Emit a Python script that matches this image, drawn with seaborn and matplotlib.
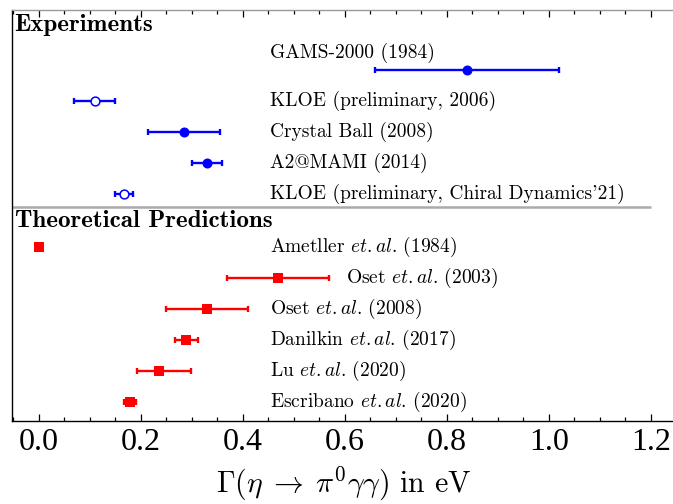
import numpy as np
import pandas as pd
import seaborn as sns
import matplotlib
matplotlib.use("Agg")
import matplotlib.pyplot as plt
from matplotlib.ticker import MultipleLocator

# ---------------- data ----------------
exp_labels = ["GAMS-2000 (1984)", "KLOE (preliminary, 2006)", "Crystal Ball (2008)",
              "A2@MAMI (2014)", "KLOE (preliminary, Chiral Dynamics'21)"]
exp_values = [0.84, 0.11, 0.285, 0.33, 0.168]
exp_err_lo = [0.18, 0.04, 0.07, 0.03, 0.018]
exp_err_hi = [0.18, 0.04, 0.07, 0.03, 0.018]
exp_filled = [True, False, True, True, False]

th_labels = [r"Ametller $et.al.\,$(1984)", r"Oset $et.al.\,$(2003)", r"Oset $et.al.\,$(2008)",
             r"Danilkin $et.al.\,$(2017)", r"Lu $et.al.\,$(2020)", r"Escribano $et.al.\,$(2020)"]
th_values = [0.0, 0.47, 0.33, 0.29, 0.236, 0.179]
th_err_lo = [0.0, 0.10, 0.08, 0.023, 0.043, 0.012]
th_err_hi = [0.0, 0.10, 0.08, 0.023, 0.062, 0.012]

xticks = [0.0, 0.2, 0.4, 0.6, 0.8, 1.0, 1.2]
xlabel = r"$\Gamma(\eta\;\rightarrow\;\pi^0\gamma\gamma)$ in eV"

# ---------------- style ----------------
sns.set_theme(style="ticks")
plt.rcParams["font.family"] = "cmr10"
plt.rcParams["mathtext.fontset"] = "cm"
plt.rcParams["axes.unicode_minus"] = False
plt.rcParams["axes.formatter.use_mathtext"] = False
plt.rcParams["text.color"] = "black"
plt.rcParams["axes.labelcolor"] = "black"
plt.rcParams["xtick.color"] = "black"
plt.rcParams["xtick.labelcolor"] = "black"

BLUE = "#0000ff"
RED = "#ff0000"

fig = plt.figure(figsize=(6.73, 5.04), dpi=100)
ax = fig.add_axes([12 / 673, 83 / 504, 0.987, 411 / 504])

# row positions (top to bottom)
n_th = len(th_values)
th_y = np.arange(n_th)[::-1].astype(float)           # 5 ... 0
exp_y = 6.7 + np.arange(len(exp_values))[::-1]        # 10.7 ... 6.7

exp_df = pd.DataFrame({"label": exp_labels, "value": exp_values, "lo": exp_err_lo,
                       "hi": exp_err_hi, "filled": exp_filled, "y": exp_y})
th_df = pd.DataFrame({"label": th_labels, "value": th_values, "lo": th_err_lo,
                      "hi": th_err_hi, "y": th_y})

# error bars
ax.errorbar(exp_df["value"], exp_df["y"], xerr=[exp_df["lo"], exp_df["hi"]], fmt="none",
            ecolor=BLUE, elinewidth=1.7, capsize=2.2, capthick=1.7, zorder=2)
th_e = th_df[(th_df["lo"] > 0) | (th_df["hi"] > 0)]
ax.errorbar(th_e["value"], th_e["y"], xerr=[th_e["lo"], th_e["hi"]], fmt="none",
            ecolor=RED, elinewidth=1.7, capsize=2.2, capthick=1.7, zorder=2)

# markers
filled = exp_df[exp_df["filled"]]
opened = exp_df[~exp_df["filled"]]
sns.scatterplot(data=filled, x="value", y="y", ax=ax, marker="o", s=52,
                color=BLUE, edgecolor=BLUE, linewidth=0, zorder=3)
sns.scatterplot(data=opened, x="value", y="y", ax=ax, marker="o", s=40,
                facecolor="white", edgecolor=BLUE, linewidth=1.1, zorder=3)
sns.scatterplot(data=th_df, x="value", y="y", ax=ax, marker="s", s=42,
                color=RED, edgecolor=RED, linewidth=0, zorder=3)

# labels
label_x = 0.453
for i, r in exp_df.iterrows():
    ty = r["y"] + 0.58 if i == 0 else r["y"]
    ax.text(label_x, ty, r["label"], fontsize=14, va="center", ha="left", color="black")
for i, r in th_df.iterrows():
    tx = 0.603 if i == 1 else label_x
    ax.text(tx, r["y"], r["label"], fontsize=14, va="center", ha="left", color="black")

ax.text(-0.047, 12.16, "Experiments", fontsize=18, va="center", ha="left",
        family="cmb10", color="black")
ax.text(-0.047, 5.84, "Theoretical Predictions", fontsize=18, va="center", ha="left",
        family="cmb10", color="black")

ax.hlines(6.29, -0.052, 1.2, color="#aaaaaa", linewidth=1.8, zorder=1)

# axes
ax.set_xlim(-0.052, 1.25)
ax.set_ylim(-0.61, 12.65)
ax.set_xticks(xticks)
ax.set_xticklabels([f"{t:.1f}" for t in xticks], family="Liberation Serif", fontsize=23,
                   color="black")
ax.xaxis.set_minor_locator(MultipleLocator(0.05))
ax.tick_params(axis="x", which="both", direction="in", top=True, bottom=True,
               color="black", width=0.9, pad=5)
ax.tick_params(axis="x", which="major", length=5)
ax.tick_params(axis="x", which="minor", length=3)
ax.set_yticks([])
ax.set_ylabel("")
ax.set_xlabel(xlabel, fontsize=21.5, labelpad=6, color="black")

for s in ["left", "bottom"]:
    ax.spines[s].set_color("black")
    ax.spines[s].set_linewidth(1.0)
ax.spines["top"].set_color("#999999")
ax.spines["top"].set_linewidth(1.0)
ax.spines["right"].set_visible(False)

fig.savefig("out.png", dpi=100)
